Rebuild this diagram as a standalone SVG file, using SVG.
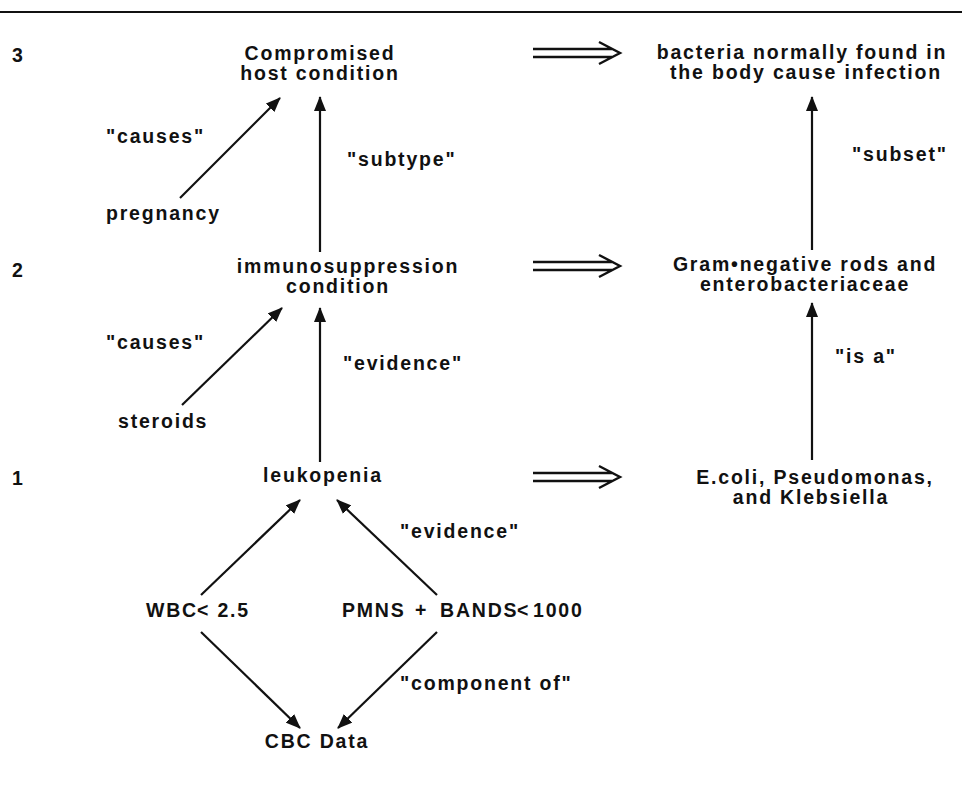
<svg xmlns="http://www.w3.org/2000/svg" width="962" height="785" viewBox="0 0 962 785">
<style>
text{font-family:"Liberation Sans",Arial,sans-serif;font-weight:bold;font-size:19.5px;fill:#111;letter-spacing:1.8px}
.c{text-anchor:middle}
.ln{stroke:#111;stroke-width:2.2;fill:none}
.dbl{stroke:#111;stroke-width:2.4;fill:none;stroke-linejoin:miter}
</style>
<defs>
<marker id="ah" viewBox="0 0 15 12" refX="14" refY="6" markerWidth="15" markerHeight="12" markerUnits="userSpaceOnUse" orient="auto">
<path d="M0,0 L15,6 L0,12 Z" fill="#111"/>
</marker>
</defs>
<rect width="962" height="785" fill="#fff"/>
<line x1="0" y1="12" x2="962" y2="12" stroke="#111" stroke-width="2"/>

<g id="levels">
<text x="12" y="62">3</text>
<text x="12" y="277">2</text>
<text x="12" y="485">1</text>
</g>

<g id="n-compromised"><text class="c" x="320" y="60">Compromised</text><text class="c" x="320" y="80">host condition</text></g>
<g id="n-bacteria"><text class="c" x="802" y="59">bacteria normally found in</text><text class="c" x="806" y="79">the body cause infection</text></g>
<g id="n-pregnancy"><text x="106" y="220">pregnancy</text></g>
<g id="n-immuno"><text class="c" x="348" y="273">immunosuppression</text><text class="c" x="338" y="293">condition</text></g>
<g id="n-gram"><text class="c" x="805" y="271">Gram•negative rods and</text><text class="c" x="805" y="291">enterobacteriaceae</text></g>
<g id="n-steroids"><text x="118" y="428">steroids</text></g>
<g id="n-leukopenia"><text class="c" x="323" y="482">leukopenia</text></g>
<g id="n-ecoli"><text class="c" x="815" y="484">E.coli, Pseudomonas,</text><text class="c" x="811" y="504">and Klebsiella</text></g>
<g id="n-wbc"><text y="617"><tspan x="146">WBC</tspan><tspan x="197">&lt; 2.5</tspan></text></g>
<g id="n-pmns"><text y="617"><tspan x="342">PMNS</tspan><tspan x="415">+</tspan><tspan x="440">BANDS</tspan><tspan x="517">&lt;</tspan><tspan x="533">1000</tspan></text></g>
<g id="n-cbc"><text class="c" x="317" y="748">CBC Data</text></g>

<g id="connectors">
<line class="ln" x1="180" y1="198" x2="280" y2="98" marker-end="url(#ah)"/>
<line class="ln" x1="320" y1="252" x2="320" y2="97" marker-end="url(#ah)"/>
<line class="ln" x1="812" y1="250" x2="812" y2="97" marker-end="url(#ah)"/>
<line class="ln" x1="182" y1="405" x2="282" y2="308" marker-end="url(#ah)"/>
<line class="ln" x1="320" y1="462" x2="320" y2="308" marker-end="url(#ah)"/>
<line class="ln" x1="812" y1="460" x2="812" y2="303" marker-end="url(#ah)"/>
<line class="ln" x1="201" y1="595" x2="300" y2="500" marker-end="url(#ah)"/>
<line class="ln" x1="437" y1="595" x2="337" y2="500" marker-end="url(#ah)"/>
<line class="ln" x1="201" y1="632" x2="300" y2="728" marker-end="url(#ah)"/>
<line class="ln" x1="437" y1="632" x2="338" y2="728" marker-end="url(#ah)"/>
<path class="dbl" d="M533,49 H612 M533,57 H612 M599,42 L620,53 L599,64"/>
<path class="dbl" d="M533,262 H612 M533,270 H612 M599,255 L620,266 L599,277"/>
<path class="dbl" d="M533,473 H612 M533,481 H612 M599,466 L620,477 L599,488"/>
</g>

<g id="labels">
<text x="106" y="143">"causes"</text>
<text x="347" y="166">"subtype"</text>
<text x="852" y="161">"subset"</text>
<text x="106" y="349">"causes"</text>
<text x="343" y="370">"evidence"</text>
<text x="835" y="363">"is a"</text>
<text x="400" y="538">"evidence"</text>
<text x="400" y="690">"component of"</text>
</g>
</svg>
